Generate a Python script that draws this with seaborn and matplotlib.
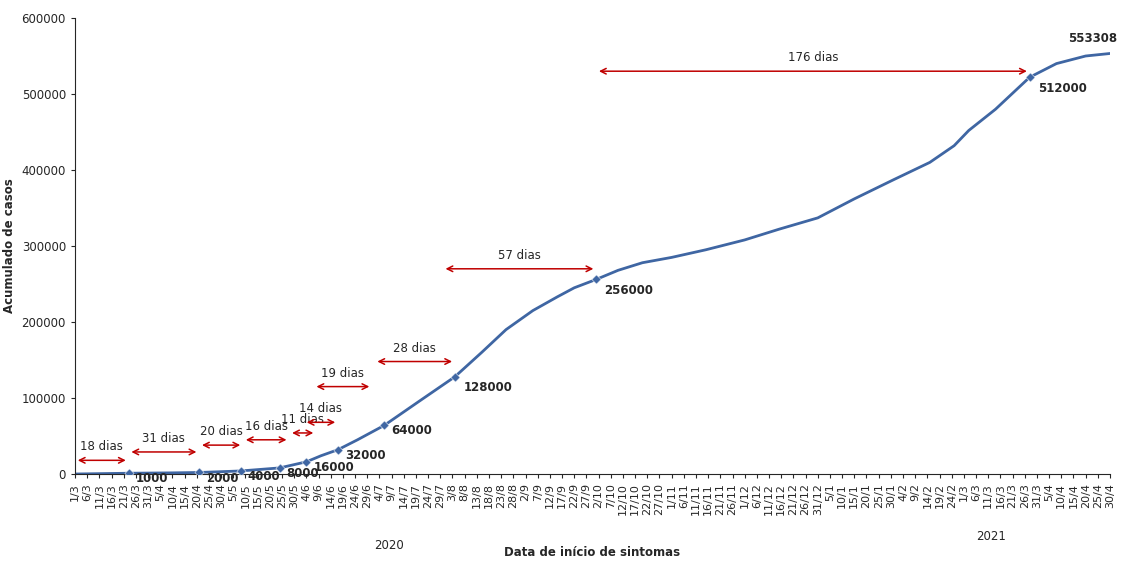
import pandas as pd
import numpy as np
import matplotlib.pyplot as plt
import seaborn as sns

# curva acumulada
curve_dates = ["2020-03-01", "2020-03-23", "2020-04-10", "2020-04-21", "2020-05-08", "2020-05-24",
               "2020-06-04", "2020-06-10", "2020-06-17", "2020-06-25", "2020-07-06", "2020-07-20",
               "2020-08-04", "2020-08-15", "2020-08-25", "2020-09-05", "2020-09-15", "2020-09-22",
               "2020-10-01", "2020-10-10", "2020-10-20", "2020-11-01", "2020-11-15", "2020-12-01",
               "2020-12-15", "2020-12-31", "2021-01-15", "2021-01-31", "2021-02-15", "2021-02-25",
               "2021-03-03", "2021-03-14", "2021-03-28", "2021-04-08", "2021-04-20", "2021-04-30"]
curve_values = [0, 1000, 1500, 2000, 4000, 8000, 16000, 24000, 32000, 45000, 64000, 95000,
                128000, 160000, 190000, 215000, 233000, 245000, 256000, 268000, 278000, 285000,
                295000, 308000, 322000, 337000, 362000, 387000, 410000, 432000, 452000, 480000,
                522000, 540000, 550000, 553308]

# pontos de duplicação
mark_dates = ["2020-03-23", "2020-04-21", "2020-05-08", "2020-05-24", "2020-06-04", "2020-06-17",
              "2020-07-06", "2020-08-04", "2020-10-01", "2021-03-28"]
mark_values = [1000, 2000, 4000, 8000, 16000, 32000, 64000, 128000, 256000, 522000]
mark_labels = ["1000", "2000", "4000", "8000", "16000", "32000", "64000", "128000", "256000", "512000"]

# setas de intervalo: início, fim, altura, texto
arrow_start = ["2020-03-01", "2020-03-23", "2020-04-21", "2020-05-09", "2020-05-28", "2020-06-03",
               "2020-06-07", "2020-07-02", "2020-07-30", "2020-10-01"]
arrow_end = ["2020-03-23", "2020-04-21", "2020-05-09", "2020-05-28", "2020-06-08", "2020-06-17",
             "2020-07-01", "2020-08-04", "2020-10-01", "2021-03-28"]
arrow_y = [18000, 29000, 38000, 45000, 54000, 68000, 115000, 148000, 270000, 530000]
arrow_text = ["18 dias", "31 dias", "20 dias", "16 dias", "11 dias", "14 dias", "19 dias",
              "28 dias", "57 dias", "176 dias"]

df = pd.DataFrame({"data": pd.to_datetime(curve_dates), "casos": curve_values})
marks = pd.DataFrame({"data": pd.to_datetime(mark_dates), "casos": mark_values})

sns.set_style("white")
fig = plt.figure(figsize=(11.23, 5.63), dpi=100)
ax = fig.add_axes([75 / 1123, 1 - 474 / 563, (1110 - 75) / 1123, (474 - 18) / 563])

blue = "#3F66A3"
sns.lineplot(data=df, x="data", y="casos", ax=ax, color=blue, linewidth=2.0)
sns.scatterplot(data=marks, x="data", y="casos", ax=ax, color=blue, marker="D", s=22, zorder=3)

for d, v, t in zip(marks["data"], mark_values, mark_labels):
    off = (5, -4) if v < 100000 else (6, -8)
    ax.annotate(t, (d, v), xytext=off, textcoords="offset points",
                fontsize=8.5, fontweight="bold", va="center", zorder=4)

for s, e, y, t in zip(arrow_start, arrow_end, arrow_y, arrow_text):
    s, e = pd.Timestamp(s), pd.Timestamp(e)
    ax.annotate("", xy=(e, y), xytext=(s, y),
                arrowprops=dict(arrowstyle="<->", color="#C00000", lw=1.1))
    ax.text(s + (e - s) / 2, y + 9000, t, ha="center", va="bottom", fontsize=8.5)

ax.annotate("553308", (pd.Timestamp("2021-04-30"), 553308), xytext=(-30, 8),
            textcoords="offset points", fontsize=8.5, fontweight="bold", annotation_clip=False)

ticks = pd.date_range("2020-03-01", "2021-04-30", freq="5D")
ax.set_xticks(ticks)
ax.set_xticklabels([f"{t.day}/{t.month}" for t in ticks], rotation=90, fontsize=8)
ax.set_xlim(pd.Timestamp("2020-03-01"), pd.Timestamp("2021-04-30"))
ax.set_ylim(0, 600000)
ax.set_yticks(range(0, 600001, 100000))
ax.tick_params(axis="y", labelsize=8.5)
ax.tick_params(axis="both", length=3, left=True, bottom=True)
sns.despine(ax=ax)
ax.set_xlabel("Data de início de sintomas", fontsize=8.5, fontweight="bold", labelpad=22)
ax.set_ylabel("Acumulado de casos", fontsize=8.5, fontweight="bold")
ax.text(pd.Timestamp("2020-07-08"), -0.165, "2020", transform=ax.get_xaxis_transform(),
        ha="center", fontsize=8.5)
ax.text(pd.Timestamp("2021-03-12"), -0.145, "2021", transform=ax.get_xaxis_transform(),
        ha="center", fontsize=8.5)

fig.savefig("out.png", dpi=100)
